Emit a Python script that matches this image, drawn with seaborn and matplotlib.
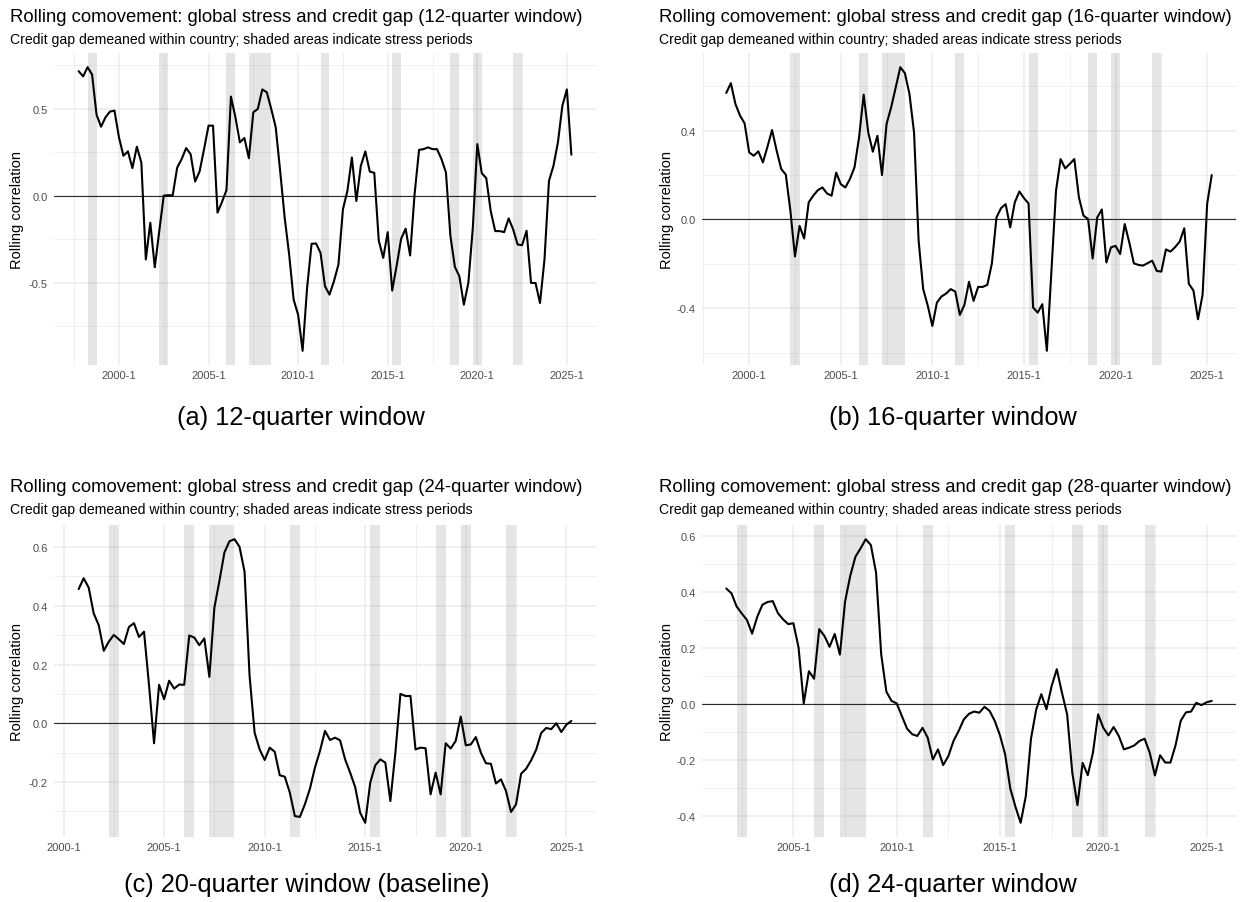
import numpy as np
import pandas as pd
import matplotlib
matplotlib.use("Agg")
import matplotlib.pyplot as plt
import seaborn as sns
from matplotlib.ticker import FixedLocator, FuncFormatter

# ---------------- data ----------------
corr_12q = [0.717, 0.687, 0.740, 0.698, 0.467, 0.398, 0.452, 0.485, 0.490, 0.337,
            0.231, 0.256, 0.160, 0.283, 0.192, -0.365, -0.154, -0.410, -0.202, 0.002,
            0.004, 0.004, 0.163, 0.212, 0.275, 0.240, 0.083, 0.140, 0.269, 0.404,
            0.404, -0.096, -0.035, 0.033, 0.571, 0.452, 0.308, 0.333, 0.217, 0.481,
            0.500, 0.612, 0.596, 0.500, 0.394, 0.140, -0.125, -0.337, -0.596, -0.683,
            -0.890, -0.529, -0.275, -0.273, -0.327, -0.519, -0.567, -0.490, -0.394, -0.077,
            0.029, 0.221, -0.029, 0.173, 0.256, 0.140, 0.133, -0.256, -0.356, -0.208,
            -0.544, -0.400, -0.246, -0.188, -0.342, 0.010, 0.265, 0.269, 0.279, 0.269,
            0.269, 0.212, 0.135, -0.231, -0.408, -0.462, -0.625, -0.500, -0.183, 0.298,
            0.131, 0.102, -0.087, -0.202, -0.202, -0.208, -0.129, -0.192, -0.279, -0.283,
            -0.200, -0.500, -0.500, -0.615, -0.365, 0.087, 0.173, 0.308, 0.519, 0.612, 0.237]
start_12q = "1997Q4"

corr_16q = [0.570, 0.614, 0.520, 0.468, 0.433, 0.302, 0.287, 0.307, 0.257, 0.328,
            0.403, 0.310, 0.227, 0.202, 0.039, -0.167, -0.029, -0.086, 0.077, 0.107,
            0.132, 0.144, 0.117, 0.107, 0.211, 0.159, 0.144, 0.182, 0.235, 0.370,
            0.562, 0.392, 0.305, 0.377, 0.200, 0.430, 0.505, 0.595, 0.686, 0.659,
            0.565, 0.392, -0.096, -0.314, -0.389, -0.480, -0.374, -0.347, -0.334, -0.314,
            -0.325, -0.430, -0.385, -0.281, -0.367, -0.304, -0.304, -0.295, -0.198, 0.009,
            0.051, 0.069, -0.036, 0.077, 0.126, 0.096, 0.072, -0.397, -0.420, -0.382,
            -0.592, -0.232, 0.129, 0.272, 0.230, 0.250, 0.272, 0.099, 0.017, 0.002,
            -0.176, 0.009, 0.045, -0.194, -0.126, -0.119, -0.156, -0.021, -0.104, -0.198,
            -0.205, -0.208, -0.197, -0.186, -0.232, -0.235, -0.135, -0.145, -0.125, -0.100,
            -0.040, -0.290, -0.320, -0.450, -0.340, 0.070, 0.200]
start_16q = "1998Q4"

corr_24q = [0.457, 0.494, 0.462, 0.374, 0.334, 0.247, 0.278, 0.301, 0.286, 0.270,
            0.328, 0.341, 0.294, 0.312, 0.130, -0.068, 0.131, 0.082, 0.145, 0.118,
            0.132, 0.131, 0.299, 0.292, 0.266, 0.289, 0.158, 0.394, 0.485, 0.582,
            0.620, 0.627, 0.601, 0.516, 0.161, -0.032, -0.089, -0.125, -0.083, -0.097,
            -0.177, -0.182, -0.236, -0.316, -0.319, -0.276, -0.223, -0.151, -0.094, -0.026,
            -0.057, -0.049, -0.058, -0.123, -0.168, -0.217, -0.305, -0.339, -0.202, -0.143,
            -0.123, -0.134, -0.265, -0.100, 0.100, 0.093, 0.093, -0.089, -0.083, -0.085,
            -0.242, -0.168, -0.242, -0.068, -0.086, -0.060, 0.023, -0.075, -0.072, -0.047,
            -0.100, -0.136, -0.138, -0.205, -0.191, -0.231, -0.302, -0.276, -0.172, -0.155,
            -0.126, -0.090, -0.033, -0.016, -0.020, 0.000, -0.030, -0.005, 0.008]
start_24q = "2000Q4"

corr_28q = [0.412, 0.395, 0.348, 0.323, 0.300, 0.251, 0.311, 0.354, 0.364, 0.367,
            0.324, 0.302, 0.285, 0.288, 0.201, 0.002, 0.117, 0.090, 0.267, 0.243,
            0.204, 0.250, 0.176, 0.365, 0.457, 0.525, 0.555, 0.588, 0.567, 0.469,
            0.177, 0.044, 0.011, 0.002, -0.043, -0.088, -0.108, -0.114, -0.085, -0.120,
            -0.198, -0.162, -0.218, -0.186, -0.132, -0.096, -0.055, -0.035, -0.027, -0.031,
            -0.010, -0.025, -0.061, -0.112, -0.180, -0.302, -0.367, -0.424, -0.329, -0.124,
            -0.021, 0.035, -0.019, 0.064, 0.124, 0.040, -0.037, -0.245, -0.361, -0.210,
            -0.254, -0.174, -0.037, -0.085, -0.112, -0.082, -0.114, -0.162, -0.156, -0.148,
            -0.132, -0.124, -0.174, -0.255, -0.183, -0.209, -0.209, -0.147, -0.060, -0.030,
            -0.027, 0.004, -0.004, 0.006, 0.011]
start_28q = "2001Q4"

stress_start = ["1998Q2", "2002Q2", "2006Q1", "2007Q2", "2011Q2", "2015Q2", "2018Q3", "2019Q4", "2022Q1"]
stress_end = ["1998Q3", "2002Q3", "2006Q2", "2008Q2", "2011Q3", "2015Q3", "2018Q4", "2020Q1", "2022Q2"]

titles = ["Rolling comovement: global stress and credit gap (12-quarter window)",
          "Rolling comovement: global stress and credit gap (16-quarter window)",
          "Rolling comovement: global stress and credit gap (24-quarter window)",
          "Rolling comovement: global stress and credit gap (28-quarter window)"]
subtitle = "Credit gap demeaned within country; shaded areas indicate stress periods"
captions = ["(a) 12-quarter window", "(b) 16-quarter window",
            "(c) 20-quarter window (baseline)", "(d) 24-quarter window"]
y_label = "Rolling correlation"
x_tick_years = [2000, 2005, 2010, 2015, 2020, 2025]
x_minor_years = [1997.5, 2002.5, 2007.5, 2012.5, 2017.5, 2022.5]
y_major = [[-0.5, 0.0, 0.5], [-0.4, 0.0, 0.4],
           [-0.2, 0.0, 0.2, 0.4, 0.6], [-0.4, -0.2, 0.0, 0.2, 0.4, 0.6]]
y_minor = [[-0.75, -0.25, 0.25, 0.75], [-0.6, -0.2, 0.2, 0.6],
           [-0.3, -0.1, 0.1, 0.3, 0.5], [-0.3, -0.1, 0.1, 0.3, 0.5]]


def qpos(period):
    p = pd.Period(period, freq="Q")
    return p.year + (p.quarter - 1) / 4.0


def build(values, start):
    per = pd.period_range(start=start, periods=len(values), freq="Q")
    return pd.DataFrame({"t": per.year + (per.quarter - 1) / 4.0, "corr": values})


series = [build(corr_12q, start_12q), build(corr_16q, start_16q),
          build(corr_24q, start_24q), build(corr_28q, start_28q)]

# ---------------- figure ----------------
sns.set_theme(style="white")
plt.rcParams["font.family"] = ["Liberation Sans", "DejaVu Sans"]

W, H = 1241, 903
fig = plt.figure(figsize=(W / 100, H / 100), dpi=100)

col_x = [(54, 596), (702, 1236)]
row_y = [(54, 366), (526, 838)]

def fx(px):
    return px / W

def fy(py):
    return 1 - py / H

for i, df in enumerate(series):
    r, c = divmod(i, 2)
    x0, x1 = col_x[c]
    y0, y1 = row_y[r]
    ax = fig.add_axes([fx(x0), fy(y1), fx(x1) - fx(x0), (y1 - y0) / H])
    ax.set_facecolor("white")
    for s in ax.spines.values():
        s.set_visible(False)

    tmin, tmax = df["t"].min(), df["t"].max()
    vmin, vmax = df["corr"].min(), df["corr"].max()
    for a, b in zip(stress_start, stress_end):
        xa, xb = qpos(a), qpos(b) + 0.25
        if xb > tmin and xa < tmax:
            ax.axvspan(xa, xb, color="#7f7f7f", alpha=0.2, lw=0, zorder=1.5)
    ax.axhline(0, color="#2a2a2a", lw=0.8, zorder=2.5)
    sns.lineplot(data=df, x="t", y="corr", ax=ax, color="black", linewidth=1.5, zorder=3)
    px = 0.05 * (tmax - tmin)
    py = 0.05 * (vmax - vmin)
    ax.set_xlim(tmin - px, tmax + px)
    ax.set_ylim(vmin - py, vmax + py)

    ax.xaxis.set_major_locator(FixedLocator(x_tick_years))
    ax.xaxis.set_minor_locator(FixedLocator(x_minor_years))
    ax.xaxis.set_major_formatter(FuncFormatter(lambda v, p: f"{int(round(v))}-1"))
    ax.yaxis.set_major_locator(FixedLocator(y_major[i]))
    ax.yaxis.set_minor_locator(FixedLocator(y_minor[i]))
    ax.yaxis.set_major_formatter(FuncFormatter(lambda v, p: f"{v:.1f}"))
    ax.grid(which="major", color="#EBEBEB", lw=1.1, zorder=0)
    ax.grid(which="minor", color="#EBEBEB", lw=0.55, zorder=0)
    ax.set_axisbelow(True)
    ax.tick_params(which="both", length=0, labelsize=8, labelcolor="#4D4D4D")
    ax.tick_params(axis="x", pad=3.5)
    ax.tick_params(axis="y", pad=4.5)
    ax.set_xlabel("")
    ax.set_ylabel("")

    lx = 17 if c == 0 else 667
    fig.text(fx(lx), fy((y0 + y1) / 2), y_label, rotation=90, ha="center", va="center",
             fontsize=10.5, color="black")
    tx = 10 if c == 0 else 659
    ty = 18 if r == 0 else 488
    fig.text(fx(tx), fy(ty), titles[i], ha="left", va="center", fontsize=13.3, color="black")
    fig.text(fx(tx), fy(ty + 22), subtitle, ha="left", va="center", fontsize=10.1, color="black")
    cx = 301 if c == 0 else 953
    cy = 418 if r == 0 else 885
    if i == 2:
        cx = 307
    fig.text(fx(cx), fy(cy), captions[i], ha="center", va="center", fontsize=18.3, color="black")

fig.savefig("out.png", dpi=100, facecolor="white")
